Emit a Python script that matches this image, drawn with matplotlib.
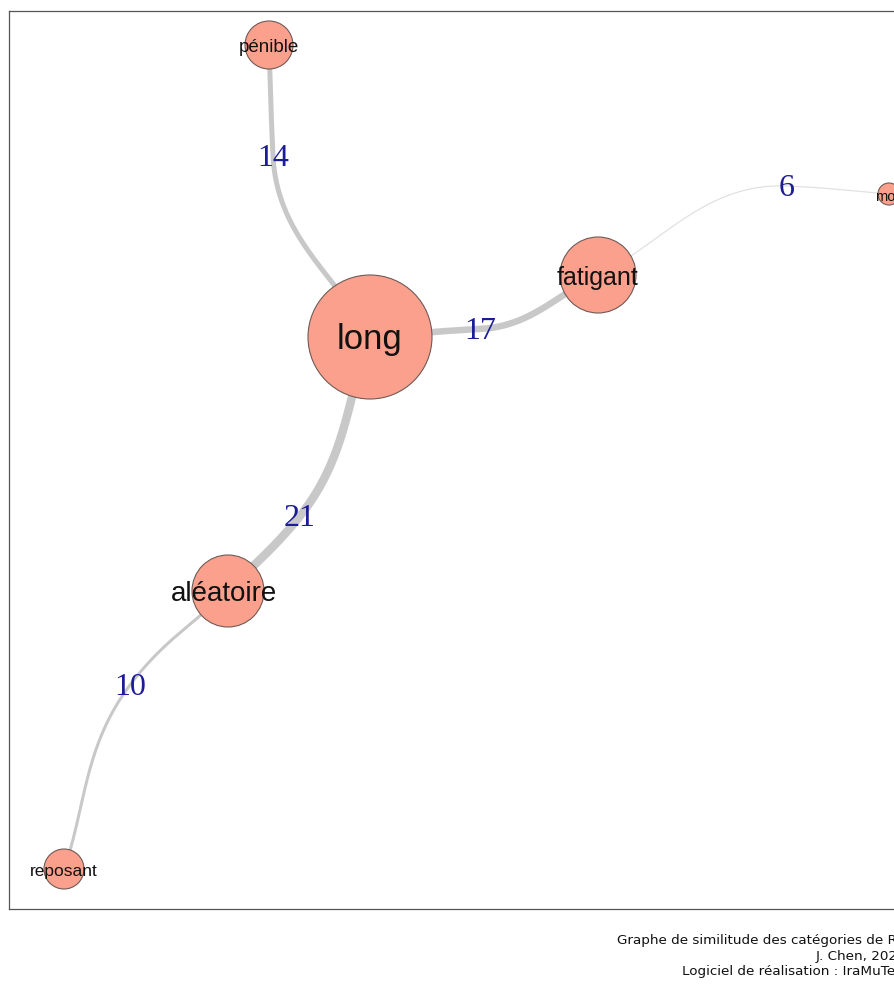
import numpy as np
import matplotlib
matplotlib.use("Agg")
import matplotlib.pyplot as plt
from matplotlib.patches import Circle

# ---- data ----
node_names = ["long", "fatigant", "pénible", "aléatoire", "reposant", "mou"]
node_x = [370, 598, 269, 228, 64, 889]
node_y = [338, 276, 46, 592, 870, 195]
node_r = [62, 38, 24, 36, 20, 11]
node_fs = [25, 18, 13.5, 20, 12.5, 10.5]

edge_src = ["pénible", "long", "long", "aléatoire", "fatigant"]
edge_dst = ["long", "fatigant", "aléatoire", "reposant", "mou"]
edge_w = [14, 17, 21, 10, 6]
# label anchor positions (pixel layout) and curve direction at the label
edge_lx = [273, 480, 300, 130, 787]
edge_ly = [157, 330, 517, 686, 187]
edge_dx = [0.05, 1.0, -0.62, -0.6, 1.0]
edge_dy = [1.0, -0.05, 0.78, 0.8, 0.04]

caption = ["Graphe de similitude des catégories de RS",
           "J. Chen, 2024",
           "Logiciel de réalisation : IraMuTeQ"]

W, H = 895, 987
fig = plt.figure(figsize=(W / 100, H / 100), dpi=100)
R = 1010
left, top, bottom = 9, 12, 910
ax = fig.add_axes([left / W, 1 - bottom / H, (R - left) / W, (bottom - top) / H])
ax.set_xlim(left, R)
ax.set_ylim(bottom, top)
ax.set_xticks([])
ax.set_yticks([])
for s in ax.spines.values():
    s.set_color("#555555")
    s.set_linewidth(0.9)

pos = {n: np.array((x, y), float) for n, x, y in zip(node_names, node_x, node_y)}
t = np.linspace(0, 1, 80)[:, None]


def hermite(p0, p1, m0, m1):
    h00 = 2 * t**3 - 3 * t**2 + 1
    h10 = t**3 - 2 * t**2 + t
    h01 = -2 * t**3 + 3 * t**2
    h11 = t**3 - t**2
    return h00 * p0 + h10 * m0 + h01 * p1 + h11 * m1


for a, b, w, lx, ly, dx, dy in zip(edge_src, edge_dst, edge_w, edge_lx, edge_ly, edge_dx, edge_dy):
    p0, p2 = pos[a], pos[b]
    m = np.array([lx, ly], float)
    d = np.array([dx, dy]) / np.hypot(dx, dy)
    l1 = np.linalg.norm(m - p0)
    l2 = np.linalg.norm(p2 - m)
    s1 = hermite(p0, m, (m - p0), d * l1 * 1.2)
    s2 = hermite(m, p2, d * l2 * 1.2, (p2 - m))
    pts = np.vstack([s1, s2[1:]])
    col = "#e0e0e0" if w < 8 else "#c8c8c8"
    lw_px = max((w - 4) * 0.5, 1.2)
    ax.plot(pts[:, 0], pts[:, 1], color=col, lw=lw_px * 0.72, solid_capstyle="butt", zorder=1)
    ax.text(lx, ly + 2, str(w), color="#1c1c96", fontsize=23, family="Liberation Serif",
            ha="center", va="center", zorder=3)

for n, x, y, r, fs in zip(node_names, node_x, node_y, node_r, node_fs):
    ax.add_patch(Circle((x, y), r, facecolor="#fca08e", edgecolor="#6e5a55", lw=0.8, zorder=2))
    ax.text(x - (4 if n == "aléatoire" else 0), y + 2, n, fontsize=fs, family="Liberation Sans",
            color="#111111", ha="center", va="center", zorder=4)

for i, line in enumerate(caption):
    fig.text(906 / W, 1 - (941 + 15.5 * i) / H, line, ha="right", va="center",
             fontsize=9.7, family="DejaVu Sans", color="#111111")

fig.savefig("out.png", dpi=100)
